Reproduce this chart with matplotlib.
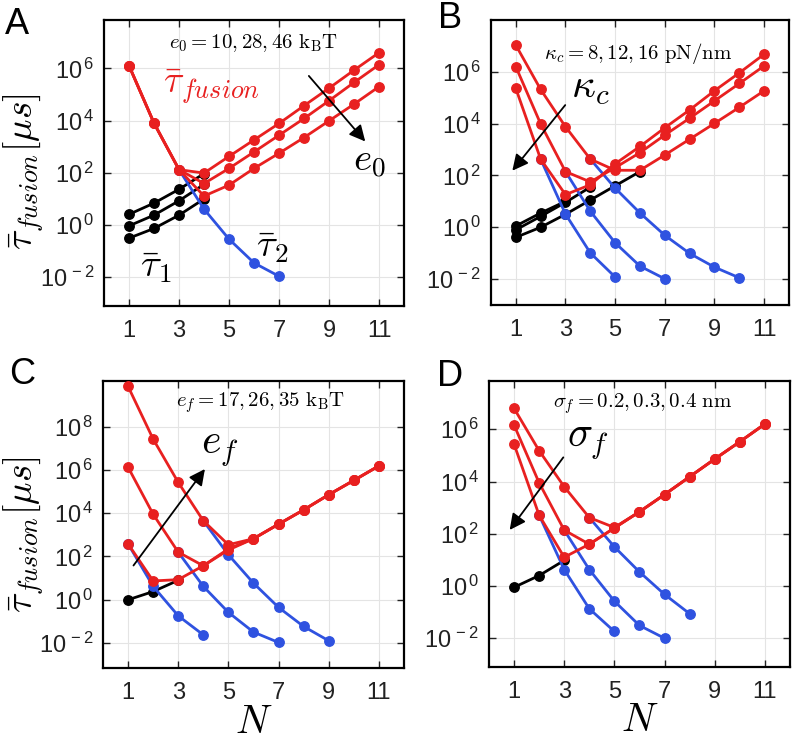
import numpy as np
import matplotlib
matplotlib.use("Agg")
import matplotlib.pyplot as plt
from matplotlib.ticker import FixedLocator, FuncFormatter, NullLocator

plt.rcParams['font.family'] = 'Liberation Sans'
plt.rcParams['mathtext.fontset'] = 'cm'

# valori, in log10(tau) [us]
N_all = np.arange(1, 12)

# Pannello A: e0 = 10, 28, 46 kBT
red_a = [
    [6.10, 3.90, 2.12, 1.99, 2.63, 3.26, 3.89, 4.57, 5.24, 5.93, 6.60],
    [6.10, 3.90, 2.12, 1.59, 2.17, 2.80, 3.44, 4.08, 4.76, 5.46, 6.14],
    [6.10, 3.90, 2.12, 1.11, 1.53, 2.17, 2.75, 3.35, 3.99, 4.63, 5.30],
]
black_a_N = [[1, 2, 3, 4], [1, 2, 3, 4], [1, 2, 3, 4]]
black_a = [[0.41, 0.84, 1.37, 1.97], [-0.03, 0.38, 0.93, 1.56], [-0.50, -0.13, 0.38, 1.00]]
blue_a_N = [[3, 4, 5, 6, 7]]
blue_a = [[2.12, 0.61, -0.54, -1.45, -1.96]]

# Pannello B: kappa_c = 8, 12, 16 pN/nm
red_b = [
    [7.03, 5.32, 3.88, 2.63, 2.20, 2.20, 2.79, 3.40, 4.01, 4.63, 5.27],
    [6.20, 3.99, 2.15, 1.75, 2.30, 2.88, 3.56, 4.21, 4.88, 5.55, 6.23],
    [5.36, 2.63, 1.26, 1.64, 2.45, 3.12, 3.84, 4.53, 5.27, 5.96, 6.68],
]
black_b_N = [[1, 2, 3, 4, 5, 6], [1, 2, 3, 4], [1, 2, 3]]
black_b = [[-0.39, 0.00, 0.50, 1.05, 1.60, 2.15], [-0.10, 0.42, 0.96, 1.55], [0.05, 0.55, 1.00]]
blue_b_N = [[4, 5, 6, 7, 8, 9, 10], [3, 4, 5, 6, 7], [2, 3, 4, 5]]
blue_b = [[2.63, 1.51, 0.55, -0.31, -1.01, -1.54, -1.95],
          [2.15, 0.62, -0.60, -1.50, -1.99],
          [2.63, 0.51, -0.99, -1.92]]

# Pannello C: e_f = 17, 26, 35 kBT
red_c = [
    [9.85, 7.42, 5.42, 3.65, 2.54, 2.82, 3.49, 4.15, 4.85, 5.51, 6.18],
    [6.12, 3.95, 2.20, 1.57, 2.35, 2.82, 3.49, 4.15, 4.85, 5.51, 6.18],
    [2.58, 0.87, 0.93, 1.57, 2.30, 2.82, 3.49, 4.15, 4.85, 5.51, 6.18],
]
black_c_N = [[1, 2, 3]]
black_c = [[0.00, 0.38, 0.90]]
blue_c_N = [[4, 5, 6, 7, 8, 9], [3, 4, 5, 6, 7], [1, 2, 3, 4]]
blue_c = [[3.65, 2.08, 0.77, -0.35, -1.23, -1.89],
          [2.20, 0.62, -0.58, -1.49, -1.97],
          [2.58, 0.62, -0.74, -1.62]]

# Pannello D: sigma_f = 0.2, 0.3, 0.4 nm
red_d = [
    [6.80, 5.18, 3.80, 2.62, 2.24, 2.84, 3.50, 4.18, 4.86, 5.52, 6.20],
    [6.16, 3.95, 2.14, 1.60, 2.22, 2.84, 3.50, 4.18, 4.86, 5.52, 6.20],
    [5.43, 2.71, 1.10, 1.60, 2.22, 2.84, 3.50, 4.18, 4.86, 5.52, 6.20],
]
black_d_N = [[1, 2, 3]]
black_d = [[-0.05, 0.40, 0.98]]
blue_d_N = [[4, 5, 6, 7, 8], [3, 4, 5, 6, 7], [2, 3, 4, 5]]
blue_d = [[2.62, 1.50, 0.54, -0.32, -1.06],
          [2.14, 0.63, -0.58, -1.51, -2.00],
          [2.71, 0.63, -0.87, -1.74]]

RED = '#e82020'
BLUE = '#2f52e0'
LW = 2.0
MS = 6.8


def disegna_pannello(ax, reds, blacks_N, blacks, blues_N, blues, ylim, yticks):
    # linee nere (tau_1)
    for n, v in zip(blacks_N, blacks):
        ax.plot(n, 10.0 ** np.array(v), '-o', color='k', lw=LW, ms=MS, zorder=3)
    # linee blu (tau_2)
    for n, v in zip(blues_N, blues):
        ax.plot(n, 10.0 ** np.array(v), '-o', color=BLUE, lw=LW, ms=MS, zorder=4)
    # linee rosse (tau_fusion)
    for v in reds:
        ax.plot(N_all, 10.0 ** np.array(v), '-o', color=RED, lw=LW, ms=MS, zorder=5)

    ax.set_yscale('log')
    ax.set_xlim(0, 12)
    ax.set_ylim(10.0 ** ylim[0], 10.0 ** ylim[1])
    ax.xaxis.set_major_locator(FixedLocator([1, 3, 5, 7, 9, 11]))
    ax.yaxis.set_major_locator(FixedLocator([10.0 ** k for k in yticks]))
    ax.yaxis.set_minor_locator(NullLocator())
    ax.yaxis.set_major_formatter(FuncFormatter(
        lambda v, p: r'$\mathregular{10^{\,%d}}$' % round(np.log10(v))))
    ax.tick_params(direction='in', top=True, right=True, length=5, width=1,
                   labelsize=17, colors='#222222')
    ax.tick_params(axis='x', pad=10)
    ax.tick_params(axis='y', pad=7)
    ax.grid(True, color='#e4e4e4', lw=0.8)
    for s in ax.spines.values():
        s.set_linewidth(1.6)


def freccia(ax, start, end):
    ax.annotate('', xy=(end[0], 10.0 ** end[1]), xytext=(start[0], 10.0 ** start[1]),
                arrowprops=dict(arrowstyle='-|>', color='k', lw=1.3, mutation_scale=24),
                zorder=6)


fig = plt.figure(figsize=(7.96, 7.41), dpi=100)
axA = fig.add_axes([0.1307, 0.587, 0.3769, 0.386])
axB = fig.add_axes([0.6168, 0.5884, 0.3744, 0.3846])
axC = fig.add_axes([0.1294, 0.0985, 0.378, 0.3873])
axD = fig.add_axes([0.6143, 0.0999, 0.378, 0.386])

ticks_std = [-2, 0, 2, 4, 6]
disegna_pannello(axA, red_a, black_a_N, black_a, blue_a_N, blue_a, (-3.1, 7.85), ticks_std)
disegna_pannello(axB, red_b, black_b_N, black_b, blue_b_N, blue_b, (-3.0, 8.0), ticks_std)
disegna_pannello(axC, red_c, black_c_N, black_c, blue_c_N, blue_c, (-3.15, 10.1), [-2, 0, 2, 4, 6, 8])
disegna_pannello(axD, red_d, black_d_N, black_d, blue_d_N, blue_d, (-3.1, 7.85), ticks_std)

# etichette asse y come testo di figura (posizione in pixel dal riferimento)
ylab = r'$\bar{\tau}_{fusion}[\mu s]$'
for py in (172, 535):
    fig.text(24 / 796, 1 - py / 741, ylab, fontsize=27, rotation=90, ha='center', va='center')
axC.set_xlabel(r'$N$', fontsize=29, labelpad=-1)
axD.set_xlabel(r'$N$', fontsize=29, labelpad=-1)

# Annotazioni pannello A
axA.text(6.0, 10 ** 6.97, r'$e_0 = 10, 28, 46\ \mathrm{k_BT}$', ha='center', va='center', fontsize=15)
freccia(axA, (8.12, 5.79), (10.52, 3.12))
axA.text(10.6, 10 ** 2.4, r'$e_0$', ha='center', va='center', fontsize=28)
axA.text(4.3, 10 ** 5.3, r'$\bar{\tau}_{fusion}$', color=RED, ha='center', va='center', fontsize=27)
axA.text(2.1, 10 ** -1.6, r'$\bar{\tau}_1$', ha='center', va='center', fontsize=28)
axA.text(6.75, 10 ** -0.85, r'$\bar{\tau}_2$', ha='center', va='center', fontsize=28)

# Annotazioni pannello B
axB.text(5.93, 10 ** 6.72, r'$\kappa_c = 8, 12, 16\ \mathrm{pN/nm}$', ha='center', va='center', fontsize=15)
freccia(axB, (3.06, 4.8), (0.79, 2.1))
axB.text(4.0, 10 ** 5.4, r'$\kappa_c$', ha='center', va='center', fontsize=30)

# Annotazioni pannello C
axC.text(6.28, 10 ** 9.09, r'$e_f = 17, 26, 35\ \mathrm{k_BT}$', ha='center', va='center', fontsize=15)
freccia(axC, (1.15, 1.48), (4.13, 6.14))
axC.text(4.65, 10 ** 6.95, r'$e_f$', ha='center', va='center', fontsize=30)

# Annotazioni pannello D
axD.text(6.14, 10 ** 7.0, r'$\sigma_f = 0.2, 0.3, 0.4\ \mathrm{nm}$', ha='center', va='center', fontsize=15)
freccia(axD, (3.03, 5.01), (0.76, 2.06))
axD.text(3.95, 10 ** 5.5, r'$\sigma_f$', ha='center', va='center', fontsize=30)

# Lettere dei pannelli
for lettera, (px, py) in zip('ABCD', [(17, 25), (450, 18), (22, 375), (450, 377)]):
    fig.text(px / 796, 1 - py / 741, lettera, fontsize=26, ha='center', va='center')

fig.savefig('out.png', dpi=100)
